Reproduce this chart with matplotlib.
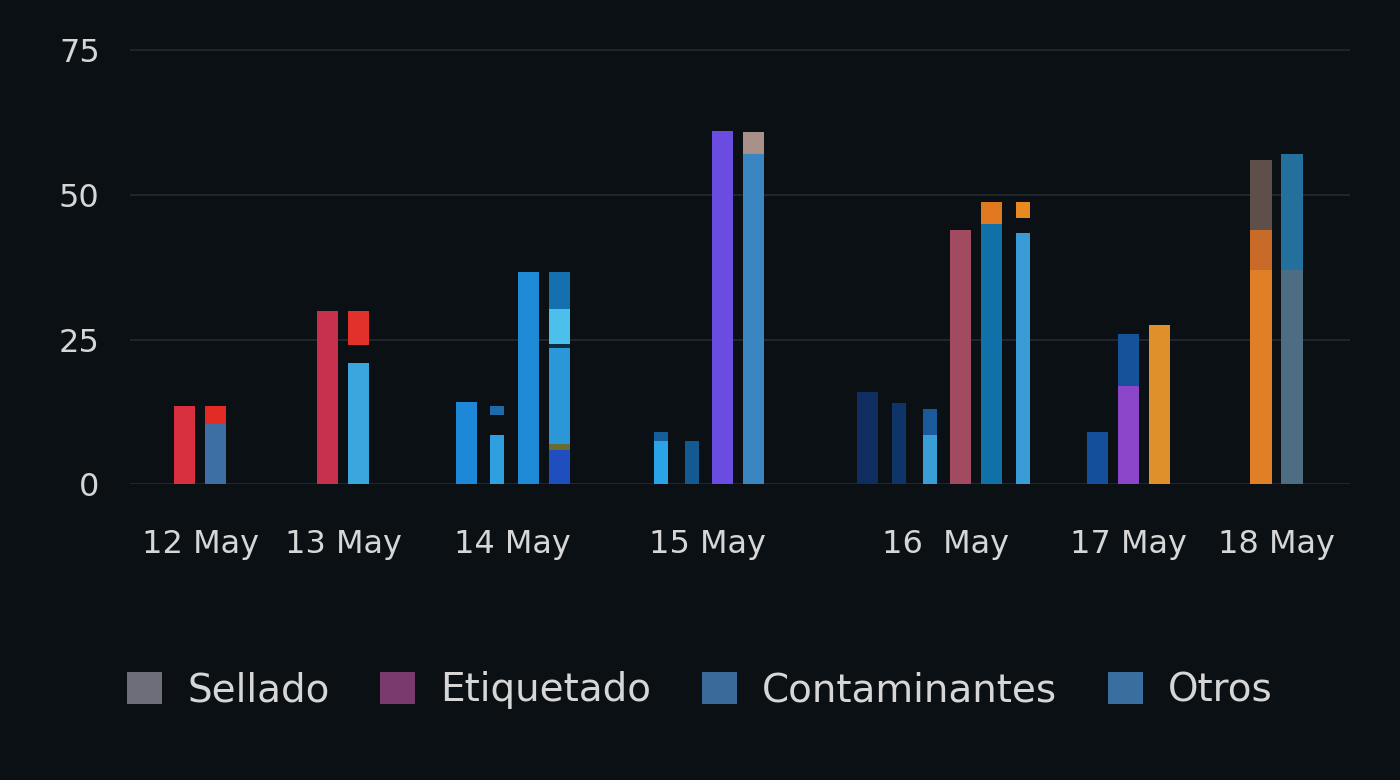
import matplotlib.pyplot as plt
from matplotlib.patches import Patch


# --- data -------------------------------------------------------------------
dates = ["12 May", "13 May", "14 May", "15 May", "16  May", "17 May", "18 May"]
bars_per_day = [2, 2, 4, 4, 6, 3, 2]

# stacked segment heights for every bar, left to right
segment_values = [
    [13.5],
    [10.5, 3.0],
    [30.0],
    [21.0, 3.0, 6.0],
    [14.3],
    [8.5, 3.5, 1.5],
    [36.7],
    [6.0, 1.0, 16.5, 0.8, 6.0, 6.4],
    [7.5, 1.5],
    [7.5],
    [61.0],
    [57.0, 3.8],
    [16.0],
    [14.0],
    [8.5, 4.5],
    [44.0],
    [45.0, 3.8],
    [43.5, 2.5, 2.8],
    [9.0],
    [17.0, 9.0],
    [27.5],
    [37.0, 7.0, 12.0],
    [37.0, 20.0],
]

legend_labels = ["Sellado", "Etiquetado", "Contaminantes", "Otros"]

# --- style ------------------------------------------------------------------
BG = "#0b1015"
GRID = "#1f262e"
TEXT = "#d6d6d6"

segment_colors = [
    ["#d8303f"],
    ["#3d6fa5", "#e22a24"],
    ["#c7304c"],
    ["#3ba6de", None, "#e2302a"],
    ["#1e88d8"],
    ["#2ea0e0", None, "#1f6aa8"],
    ["#1e8ad6"],
    ["#1f4fbf", "#6b6a30", "#2a98d6", "#0f2a44", "#4cc0ec", "#1570b0"],
    ["#2aa4e6", "#155d9a"],
    ["#135a90"],
    ["#6a4de0"],
    ["#3a86c0", "#a89088"],
    ["#0f2d5e"],
    ["#0f3468"],
    ["#3a9ed6", "#1a5a9a"],
    ["#a24a60"],
    ["#1070a8", "#e07820"],
    ["#3a9cd6", None, "#e88a20"],
    ["#134f9a"],
    ["#8a45c8", "#15529a"],
    ["#e0902a"],
    ["#e07f25", "#c86a28", "#5e5048"],
    ["#4d6e82", "#24709c"],
]
thin_bars = {5, 8, 9, 13, 14, 17}
legend_colors = ["#6e6e7a", "#7a3a6e", "#3a6a9a", "#3a6e9e"]

# spacing (in bar pitches) from the last bar of one day to the first of the next
day_gaps = [3.6, 3.45, 3.25, 3.65, 2.4, 3.25]

plt.rcParams["font.family"] = ["DejaVu Sans"]

fig = plt.figure(figsize=(14, 7.8), dpi=100, facecolor=BG)
ax = fig.add_axes([0.093, 0.379, 0.871, 0.579], facecolor=BG)

# lay out bar positions: bars in a day one unit apart, days separated by a gap
positions = []
centers = []
cursor = 0.0
for d, n in enumerate(bars_per_day):
    group = [cursor + k for k in range(n)]
    positions.extend(group)
    centers.append((group[0] + group[-1]) / 2)
    if d < len(day_gaps):
        cursor = group[-1] + day_gaps[d]

for i, (x, vals, cols) in enumerate(zip(positions, segment_values, segment_colors)):
    width = 0.45 if i in thin_bars else 0.68
    bottom = 0.0
    for v, c in zip(vals, cols):
        if c is not None:
            ax.bar(x, v, bottom=bottom, width=width, color=c, linewidth=0, zorder=3)
        bottom += v

ax.set_xlim(positions[0] - 1.75, positions[-1] + 1.85)
ax.set_ylim(0, 78)
ax.set_yticks([0, 25, 50, 75])
ax.set_xticks(centers)
ax.set_xticklabels(dates)
ax.grid(axis="y", color=GRID, linewidth=1.5, zorder=0)
ax.axhline(0, color="#1d242c", linewidth=2, zorder=1)
for s in ax.spines.values():
    s.set_visible(False)
ax.tick_params(axis="both", length=0, colors=TEXT, labelsize=23)
ax.tick_params(axis="x", pad=32)
ax.tick_params(axis="y", pad=22)

handles = [Patch(facecolor=c, edgecolor="none") for c in legend_colors]
fig.legend(
    handles,
    legend_labels,
    loc="center",
    bbox_to_anchor=(0.5, 0.115),
    ncol=4,
    frameon=False,
    fontsize=28,
    labelcolor=TEXT,
    handlelength=0.9,
    handleheight=0.9,
    handletextpad=0.65,
    columnspacing=1.3,
)

fig.savefig("out.png", dpi=100, facecolor=BG)
